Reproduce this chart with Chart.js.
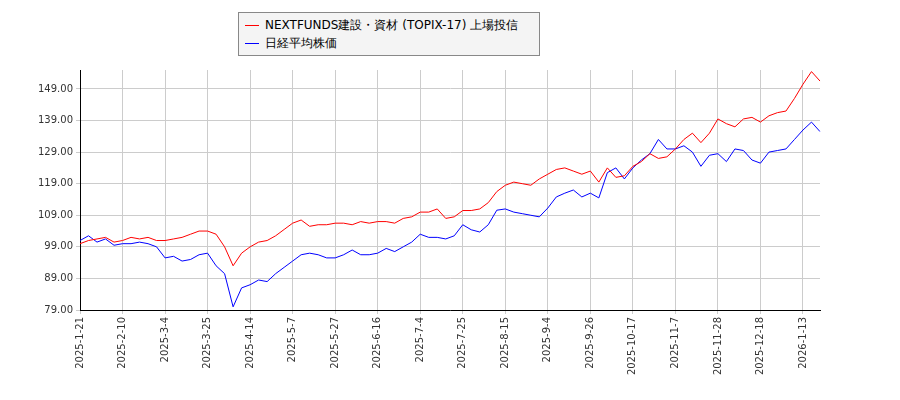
<!DOCTYPE html>
<html><head><meta charset="utf-8">
<script src="https://cdn.jsdelivr.net/npm/chart.js"></script>
<style>
body{margin:0;background:#fff;}
#wrap{position:relative;width:900px;height:400px;}
#leg{position:absolute;left:238px;top:12px;width:302px;height:44px;border:1px solid #888;background:#f4f4f4;font-family:"DejaVu Sans",sans-serif;font-size:12px;color:#000;box-sizing:border-box;}
#leg div{position:absolute;left:6px;height:16px;line-height:16px;}
#leg span{display:inline-block;width:14px;height:1.5px;vertical-align:middle;margin-right:6px;}
</style></head><body>
<div id="wrap"><canvas id="c" width="900" height="400"></canvas>
<div id="leg"><div style="top:4px"><span style="background:#f00"></span>NEXTFUNDS建設・資材 (TOPIX-17) 上場投信</div><div style="top:22px"><span style="background:#00f"></span>日経平均株価</div></div></div>
<script>
const tickDates=["2025-1-21","2025-2-10","2025-3-4","2025-3-25","2025-4-14","2025-5-7","2025-5-27","2025-6-16","2025-7-4","2025-7-25","2025-8-15","2025-9-4","2025-9-26","2025-10-17","2025-11-7","2025-11-28","2025-12-18","2026-1-13"];
const seriesRed=[100,101,101.5,102,100.5, 101,102,101.5,102,101, 101,101.5,102,103,104, 104,103,99,93,97, 99,100.5,101,102.5,104.5, 106.5,107.5,105.5,106,106, 106.5,106.5,106,107,106.5, 107,107,106.5,108,108.5, 110,110,111,108,108.5, 110.5,110.5,111,113,116.5, 118.5,119.5,119,118.5,120.5, 122,123.5,124,123,122, 123,119.5,124,121,121.5, 124.5,126,128.5,127,127.5, 130,133,135,132,135, 139.5,138,137,139.5,140, 138.5,140.5,141.5,142,146, 150.5,154.5,151.5];
const seriesBlue=[101,102.5,100.5,101.5,99.5, 100,100,100.5,100,99, 95.5,96,94.5,95,96.5, 97,93,90.5,80,86, 87,88.5,88,90.5,92.5, 94.5,96.5,97,96.5,95.5, 95.5,96.5,98,96.5,96.5, 97,98.5,97.5,99,100.5, 103,102,102,101.5,102.5, 106,104.4,103.7,106,110.6, 111,110,109.5,109,108.5, 111.3,114.8,116,117,114.8, 116,114.5,122.5,124,120.5, 124,126.5,128.5,133,130, 130,131,129,124.5,128, 128.5,126,130,129.5,126.5, 125.5,129,129.5,130,133, 136,138.5,135.5];
const yTicks=[79,89,99,109,119,129,139,149];
const labels=seriesRed.map((_,i)=>i%5===0&&tickDates[i/5]?tickDates[i/5]:'');
new Chart(document.getElementById('c'),{type:'line',
data:{labels,datasets:[
{data:seriesRed,borderColor:'#f00',borderWidth:1,pointRadius:0,tension:0},
{data:seriesBlue,borderColor:'#00f',borderWidth:1,pointRadius:0,tension:0}]},
options:{responsive:false,animation:false,plugins:{legend:{display:false},tooltip:{enabled:false}},
layout:{padding:{top:70,right:80,left:0,bottom:0}},
scales:{
x:{offset:false,afterFit:a=>{a.height=90;},grid:{color:c=>labels[c.index]?'#ccc':'rgba(0,0,0,0)',drawTicks:true,tickLength:4},border:{color:'#000'},
 ticks:{autoSkip:false,maxRotation:90,minRotation:90,color:'#333',font:{family:'DejaVu Sans',size:10},callback:(v,i)=>labels[i]}},
y:{min:79,max:155,afterFit:a=>{a.width=80;},afterBuildTicks:a=>{a.ticks=yTicks.map(v=>({value:v}));},
 grid:{color:'#ccc',tickLength:4},border:{color:'#000'},
 ticks:{color:'#333',font:{family:'DejaVu Sans',size:10},callback:v=>v.toFixed(2)}}}}});
</script></body></html>
